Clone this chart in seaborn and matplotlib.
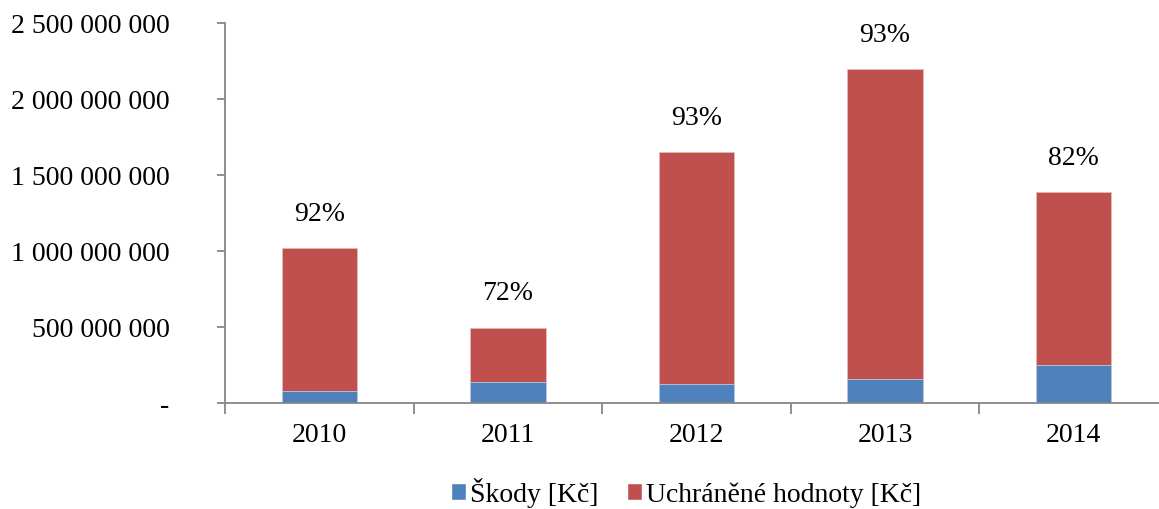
import numpy as np
import pandas as pd
import matplotlib
matplotlib.use("Agg")
import matplotlib.pyplot as plt
from matplotlib.patches import Patch
from matplotlib.ticker import FuncFormatter, FixedLocator
import seaborn as sns

# data
years = ["2010", "2011", "2012", "2013", "2014"]
damages = [80e6, 138e6, 122e6, 158e6, 250e6]           # Škody [Kč]
totals = [1017e6, 496e6, 1650e6, 2197e6, 1386e6]        # top of stacked bar
pct_labels = ["92%", "72%", "93%", "93%", "82%"]

df = pd.DataFrame({"year": years, "damages": damages, "total": totals})

BLUE = "#4F81BD"
RED = "#C0504D"
AXIS = "#868686"

sns.set_theme(style="white")
plt.rcParams["font.family"] = ["Liberation Serif", "DejaVu Serif"]
plt.rcParams["font.size"] = 20
plt.rcParams["text.color"] = "black"
plt.rcParams["xtick.labelcolor"] = "black"
plt.rcParams["ytick.labelcolor"] = "black"

fig = plt.figure(figsize=(11.59, 5.10), dpi=100)
ax = fig.add_axes([225 / 1159, 106 / 510, 943 / 1159, 380 / 510])

# stacked bars: red full height underneath, blue damages drawn over it
sns.barplot(data=df, x="year", y="total", color=RED, width=0.4, ax=ax,
            saturation=1, edgecolor="#e6b9b8", linewidth=0.6)
sns.barplot(data=df, x="year", y="damages", color=BLUE, width=0.4, ax=ax,
            saturation=1, edgecolor="#b9cde5", linewidth=0.6)

# percentage labels above bars
for i, (t, lab) in enumerate(zip(totals, pct_labels)):
    ax.annotate(lab, xy=(i, t), xytext=(0, 25), textcoords="offset points",
                ha="center", va="center", fontsize=20, color="black")

ax.set_xlim(-0.5, len(years) - 0.5)
ax.set_ylim(0, 2.5e9)
ax.set_yticks(np.arange(0, 2.5e9 + 1, 5e8))


def fmt(v, pos):
    if v == 0:
        return "-"
    return f"{int(v):,}".replace(",", " ")


ax.yaxis.set_major_formatter(FuncFormatter(fmt))
ax.xaxis.set_minor_locator(FixedLocator(np.arange(-0.5, len(years), 1)))
ax.set_xlabel("")
ax.set_ylabel("")

for side in ["top", "right"]:
    ax.spines[side].set_visible(False)
for side in ["left", "bottom"]:
    ax.spines[side].set_color(AXIS)
    ax.spines[side].set_linewidth(1.3)

ax.tick_params(axis="y", which="major", direction="out", length=6, width=1.3,
               color=AXIS, left=True, labelsize=20, pad=34, labelcolor="black")
ax.tick_params(axis="x", which="major", length=0, labelsize=20, pad=14,
               labelcolor="black")
ax.tick_params(axis="x", which="minor", direction="out", length=8, width=1.3,
               color=AXIS, bottom=True)

handles = [Patch(facecolor=BLUE, label="Škody [Kč]"),
           Patch(facecolor=RED, label="Uchráněné hodnoty [Kč]")]
leg = fig.legend(handles=handles, loc="center",
                 bbox_to_anchor=(686 / 1159, 1 - 493 / 510),
                 ncol=2, frameon=False, fontsize=20, handlelength=0.55,
                 handleheight=0.55, handletextpad=0.15, columnspacing=1.0,
                 borderaxespad=0)
for t in leg.get_texts():
    t.set_color("black")

fig.savefig("out.png", dpi=100)
